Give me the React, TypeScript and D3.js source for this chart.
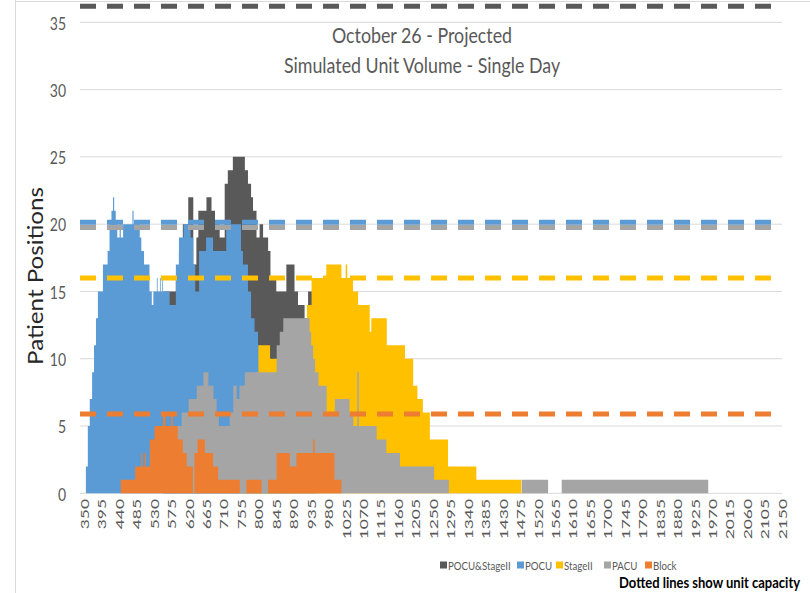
import React from 'react';
import * as d3 from 'd3';

type Pt = [number, number];

// ---- data (minutes of day -> patient positions, step change points) ----
const categoryFirst = 350;
const categoryLast = 2150;
const xTickLabels = [350, 395, 440, 485, 530, 575, 620, 665, 710, 755, 800, 845, 890, 935, 980, 1025, 1070, 1115, 1160, 1205, 1250, 1295, 1340, 1385, 1430, 1475, 1520, 1565, 1610, 1655, 1700, 1745, 1790, 1835, 1880, 1925, 1970, 2015, 2060, 2105, 2150];
const yTickValues = [0, 5, 10, 15, 20, 25, 30, 35];

const seriesNames = ['POCU&StageII', 'POCU', 'StageII', 'PACU', 'Block'];
const seriesColors = ['#595959', '#5B9BD5', '#FFC000', '#A5A5A5', '#ED7D31'];
const capacityValues = [36.2, 20.15, 16, 19.75, 5.9];

const pocuStage2: Pt[] = [[560, 15], [592, 16], [600, 18], [610, 20], [624, 22], [637, 17], [645, 19], [650, 21], [671, 22], [684, 21], [693, 20], [705, 19], [718, 23], [726, 24], [739, 25], [770, 24], [778, 23], [786, 22], [791, 21], [800, 19], [808, 20], [817, 19], [830, 18], [836, 16], [851, 15], [877, 17], [898, 15], [907, 14], [924, 13], [933, 15], [945, 16], [955, 0]];

const pocu: Pt[] = [[360, 2], [365, 5], [370, 7], [376, 9], [381, 11], [386, 13], [391, 15], [404, 17], [416, 18], [421, 20], [426, 21], [430, 22], [433, 21], [437, 20], [441, 19], [447, 20], [450, 19], [456, 20], [480, 21], [483, 20], [499, 19], [503, 18], [510, 17], [524, 15], [530, 14], [534, 15], [543, 16], [545, 15], [551, 16], [553, 15], [557, 16], [559, 15], [576, 14], [592, 17], [600, 19], [612, 20], [630, 19], [637, 17], [642, 15], [652, 18], [670, 19], [688, 18], [722, 20], [760, 18], [765, 17], [778, 15], [786, 13], [795, 12], [804, 11], [812, 10], [825, 8], [840, 6], [855, 4], [870, 2], [885, 0]];

const stage2: Pt[] = [[755, 6], [765, 8], [775, 7], [790, 8], [800, 9], [805, 11], [835, 10], [860, 11], [900, 12], [930, 14], [942, 16], [980, 17], [1019, 16], [1030, 17], [1034, 16], [1049, 15], [1062, 14], [1092, 12], [1096, 13], [1136, 11], [1183, 10], [1204, 8], [1215, 7], [1229, 6], [1247, 4], [1294, 2], [1367, 1], [1483, 0]];

const pacu: Pt[] = [[594, 5], [607, 6], [625, 7], [646, 8], [663, 9], [676, 8], [689, 7], [697, 6], [703, 5], [731, 6], [740, 8], [749, 7], [756, 8], [770, 9], [852, 11], [860, 12], [869, 13], [937, 12], [941, 11], [946, 10], [951, 9], [960, 8], [981, 6], [1002, 7], [1040, 6], [1050, 5], [1060, 9], [1064, 5], [1110, 4], [1135, 3], [1170, 2], [1258, 1], [1296, 0], [1484, 1], [1552, 0], [1587, 1], [1965, 0]];

const block: Pt[] = [[450, 1], [487, 2], [503, 3], [506, 2], [512, 3], [515, 2], [525, 4], [537, 5], [559, 6], [565, 5], [580, 6], [584, 5], [597, 4], [610, 3], [620, 2], [636, 0], [640, 3], [648, 4], [667, 3], [688, 2], [701, 1], [757, 0], [774, 1], [813, 0], [830, 1], [852, 3], [886, 2], [903, 3], [946, 4], [950, 3], [1001, 1], [1019, 0]];

const titleLines = ['October 26 - Projected', 'Simulated Unit Volume - Single Day'];
const yAxisTitle = 'Patient Positions';
const footnote = 'Dotted lines show unit capacity';

const FONT = "Lato, 'Open Sans', 'Liberation Sans', sans-serif";

export default function App() {
  const W = 810;
  const H = 593;
  const plotLeft = 80;
  const plotRight = 782;

  const x = d3.scaleLinear().domain([categoryFirst, categoryLast]).range([82, 780]);
  const y = d3.scaleLinear().domain([0, 35]).range([493.3, 22.3]);

  const area = d3
    .area<Pt>()
    .x((d) => x(d[0]))
    .y0(y(0))
    .y1((d) => y(d[1]))
    .curve(d3.curveStepAfter);

  const seriesData = [pocuStage2, pocu, stage2, pacu, block];
  const dashOrder = [0, 1, 3, 2, 4];
  const legendX = [440, 517, 556, 604, 645];

  return (
    <svg
      width={W}
      height={H}
      style={{ position: 'absolute', left: 0, top: 0, display: 'block', background: '#fff' }}
      fontFamily={FONT}
    >
      {/* chart frame (partially visible) */}
      <line x1={15.5} y1={0} x2={15.5} y2={H} stroke="#d9d9d9" strokeWidth={1} />
      <line x1={15} y1={1.5} x2={W} y2={1.5} stroke="#d9d9d9" strokeWidth={1} />

      {/* gridlines */}
      {yTickValues.map((v) => (
        <line key={'g' + v} x1={plotLeft} x2={plotRight} y1={y(v)} y2={y(v)} stroke="#d9d9d9" strokeWidth={1} />
      ))}

      {/* areas */}
      {seriesData.map((s, i) => (
        <path key={'a' + i} d={area(s) || ''} fill={seriesColors[i]} />
      ))}

      {/* capacity dashed lines */}
      {dashOrder.map((i) => (
        <line
          key={'c' + i}
          x1={plotLeft}
          x2={plotRight}
          y1={y(capacityValues[i])}
          y2={y(capacityValues[i])}
          stroke={seriesColors[i]}
          strokeWidth={5}
          strokeDasharray="16 11"
        />
      ))}

      {/* y tick labels */}
      {yTickValues.map((v) => (
        <text
          key={'yl' + v}
          transform={`translate(66,${y(v)}) scale(1,1.3)`}
          textAnchor="end"
          dominantBaseline="central"
          fontSize={14}
          fill="#595959"
        >
          {v}
        </text>
      ))}

      {/* x tick labels */}
      {xTickLabels.map((t) => (
        <text
          key={'xl' + t}
          transform={`translate(${x(t) + 2},499) rotate(-90) scale(1.45,1)`}
          textAnchor="end"
          dominantBaseline="central"
          fontSize={12}
          fill="#595959"
        >
          {t}
        </text>
      ))}

      {/* title */}
      {titleLines.map((l, i) => (
        <text
          key={'t' + i}
          transform={`translate(422,${35 + i * 30}) scale(1.08,1.25)`}
          textAnchor="middle"
          dominantBaseline="central"
          fontSize={16.5}
          fill="#595959"
        >
          {l}
        </text>
      ))}

      {/* y axis title */}
      <text
        transform={`translate(35,276) rotate(-90) scale(1.15,1)`}
        textAnchor="middle"
        dominantBaseline="central"
        fontSize={21}
        fill="#262626"
      >
        {yAxisTitle}
      </text>

      {/* legend */}
      {seriesNames.map((n, i) => (
        <g key={'lg' + i} transform={`translate(${legendX[i]},565)`}>
          <rect x={0} y={-3.5} width={7} height={7} fill={seriesColors[i]} />
          <text
            x={0}
            y={0}
            transform="translate(8,0) scale(0.88,1.1)"
            dominantBaseline="central"
            fontSize={11}
            fill="#595959"
          >
            {n}
          </text>
        </g>
      ))}

      {/* footnote */}
      <text
        transform="translate(619,582) scale(1.0,1.15)"
        dominantBaseline="central"
        fontSize={13}
        fontWeight="bold"
        fill="#000"
      >
        {footnote}
      </text>
    </svg>
  );
}
